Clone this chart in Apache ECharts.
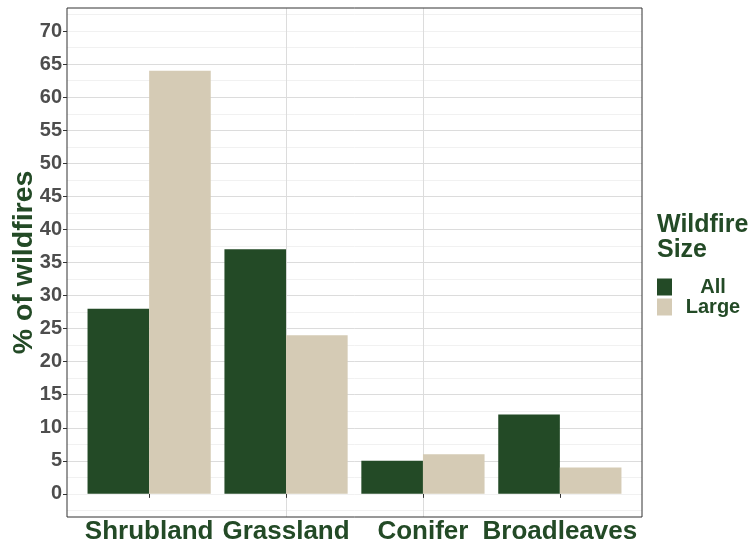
<!DOCTYPE html>
<html>
<head>
<meta charset="utf-8">
<script src="https://cdn.jsdelivr.net/npm/echarts@6/dist/echarts.min.js"></script>
<style>html,body{margin:0;padding:0;background:#fff}#c{width:756px;height:547px}</style>
</head>
<body>
<div id="c"></div>
<script>
const categories = ['Shrubland', 'Grassland', 'Conifer', 'Broadleaves'];
const allPct = [28, 37, 5, 12];
const largePct = [64, 24, 6, 4];
const yTicks = [0, 5, 10, 15, 20, 25, 30, 35, 40, 45, 50, 55, 60, 65, 70];
const seriesNames = ['All', 'Large'];

const GREEN = '#234a26';
const BEIGE = '#d5cbb5';
const FONT = '"Liberation Sans", Arial, sans-serif';
const catPos = categories.map((c, i) => i + 1);

const chart = echarts.init(document.getElementById('c'), null, {renderer: 'canvas'});
chart.setOption({
  animation: false,
  backgroundColor: '#ffffff',
  title: {
    text: 'Wildfire\nSize',
    left: 657, top: 213, padding: 0,
    textStyle: {fontSize: 25, fontWeight: 'bold', color: GREEN, lineHeight: 25, fontFamily: FONT}
  },
  legend: {
    data: seriesNames,
    orient: 'vertical', left: 657, top: 277, padding: 0,
    itemWidth: 15, itemHeight: 17, itemGap: 0, icon: 'rect',
    formatter: '{c|{name}}',
    textStyle: {
      rich: {c: {width: 72, height: 17, lineHeight: 17, align: 'center', fontSize: 20, fontWeight: 'bold', color: GREEN, fontFamily: FONT}}
    }
  },
  grid: {
    left: 67, top: 8, right: 114, bottom: 30,
    outerBoundsMode: 'none', containLabel: false,
    show: true, borderColor: '#333333', borderWidth: 1, backgroundColor: 'transparent', z: 3
  },
  xAxis: {
    type: 'value', min: 0.4, max: 4.6, minInterval: 1, maxInterval: 1,
    axisLine: {show: false},
    axisTick: {show: true, customValues: catPos, length: 4, lineStyle: {color: '#333333'}},
    axisLabel: {
      customValues: catPos,
      formatter: v => categories[Math.round(v) - 1] || '',
      color: GREEN, fontSize: 26, fontWeight: 'bold', fontFamily: FONT, margin: 2
    },
    splitLine: {show: true, showMinLine: false, showMaxLine: false, lineStyle: {color: '#dcdcdc', width: 1}}
  },
  yAxis: [
    {
      type: 'value', min: -3.5, max: 73.5, minInterval: 5, maxInterval: 5, z: 1,
      name: '% of wildfires', nameLocation: 'middle', nameGap: 28, nameRotate: 90,
      nameMoveOverlap: false,
      nameTextStyle: {fontSize: 28.5, fontWeight: 'bold', color: GREEN, fontFamily: FONT},
      axisLine: {show: false},
      axisTick: {show: true, customValues: yTicks, length: 4, lineStyle: {color: '#333333'}},
      axisLabel: {customValues: yTicks, color: '#4d4d4d', fontSize: 20, fontWeight: 'bold', fontFamily: FONT, margin: 5},
      splitLine: {show: true, showMinLine: false, showMaxLine: false, lineStyle: {color: '#dcdcdc', width: 1}}
    },
    {
      type: 'value', min: -3.5, max: 73.5, minInterval: 2.5, maxInterval: 2.5, z: 0,
      axisLine: {show: false}, axisTick: {show: false}, axisLabel: {show: false},
      splitLine: {show: true, showMinLine: false, showMaxLine: false, lineStyle: {color: '#f1f1f1', width: 1}}
    }
  ],
  series: [
    {
      name: seriesNames[0], type: 'bar', yAxisIndex: 0,
      data: allPct.map((v, i) => [catPos[i], v]),
      barGap: '0%', barCategoryGap: '10%',
      itemStyle: {color: GREEN}
    },
    {
      name: seriesNames[1], type: 'bar', yAxisIndex: 0,
      data: largePct.map((v, i) => [catPos[i], v]),
      barGap: '0%', barCategoryGap: '10%',
      itemStyle: {color: BEIGE}
    }
  ]
});
</script>
</body>
</html>
